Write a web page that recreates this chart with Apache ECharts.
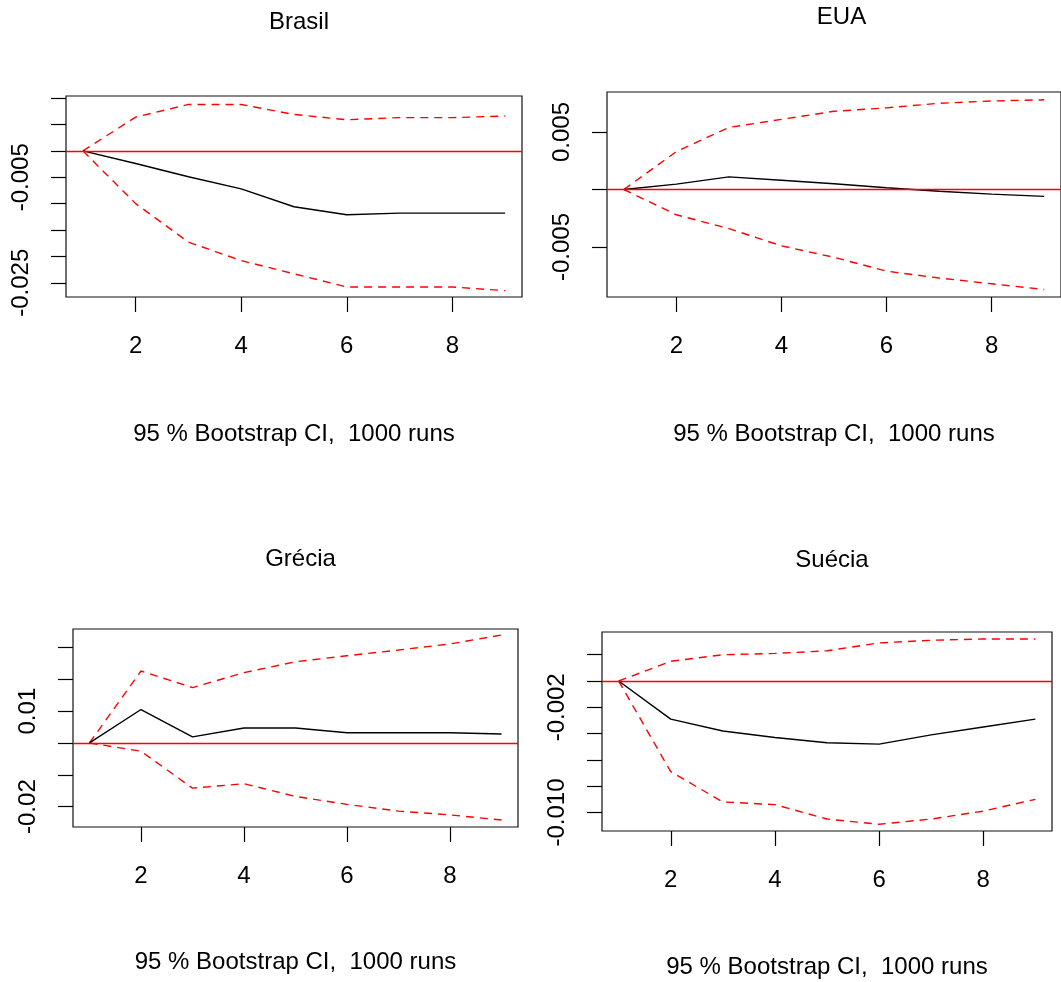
<!DOCTYPE html>
<html>
<head>
<meta charset="utf-8">
<script src="https://cdn.jsdelivr.net/npm/echarts@6/dist/echarts.min.js"></script>
<style>
html,body{margin:0;padding:0;background:#ffffff;}
#chart{width:1061px;height:982px;}
</style>
</head>
<body>
<div id="chart"></div>
<script>
// ---------- data ----------
const steps = [1, 2, 3, 4, 5, 6, 7, 8, 9];
const xTicks = [2, 4, 6, 8];
const xAxisTitle = '95 % Bootstrap CI,  1000 runs';

const brasilTitle = 'Brasil';
const brasilIrf   = [0, -0.0024, -0.0049, -0.0072, -0.0106, -0.0121, -0.0118, -0.0118, -0.0118];
const brasilUpper = [0, 0.0064, 0.0088, 0.0088, 0.0069, 0.0059, 0.0063, 0.0063, 0.0066];
const brasilLower = [0, -0.0100, -0.0173, -0.0208, -0.0233, -0.0258, -0.0258, -0.0258, -0.0265];
const brasilYTicks = [0.01, 0.005, 0, -0.005, -0.01, -0.015, -0.02, -0.025];
const brasilYLabelValues = [-0.005, -0.025];
const brasilYLabelTexts  = ['-0.005', '-0.025'];

const euaTitle = 'EUA';
const euaIrf   = [0, 0.00047, 0.0011, 0.0008, 0.0005, 0.00015, -0.00015, -0.0004, -0.0006];
const euaUpper = [0, 0.0033, 0.0054, 0.0061, 0.0068, 0.0071, 0.0075, 0.0077, 0.0078];
const euaLower = [0, -0.0022, -0.0034, -0.0049, -0.0059, -0.0071, -0.0077, -0.0082, -0.0087];
const euaYTicks = [0.005, 0, -0.005];
const euaYLabelValues = [0.005, -0.005];
const euaYLabelTexts  = ['0.005', '-0.005'];

const greciaTitle = 'Grécia';
const greciaIrf   = [0, 0.0105, 0.0019, 0.0047, 0.0047, 0.0032, 0.0032, 0.0032, 0.0028];
const greciaUpper = [0, 0.0226, 0.0174, 0.0221, 0.0255, 0.0274, 0.0292, 0.0311, 0.0339];
const greciaLower = [0, -0.0026, -0.0142, -0.0128, -0.0168, -0.0193, -0.0214, -0.0226, -0.0242];
const greciaYTicks = [0.03, 0.02, 0.01, 0, -0.01, -0.02];
const greciaYLabelValues = [0.01, -0.02];
const greciaYLabelTexts  = ['0.01', '-0.02'];

const sueciaTitle = 'Suécia';
const sueciaIrf   = [0, -0.0029, -0.0038, -0.0043, -0.0047, -0.0048, -0.0041, -0.0035, -0.0029];
const sueciaUpper = [0, 0.0015, 0.0020, 0.0021, 0.0023, 0.0029, 0.0031, 0.0032, 0.0032];
const sueciaLower = [0, -0.0069, -0.0092, -0.0094, -0.0105, -0.0109, -0.0105, -0.0099, -0.0090];
const sueciaYTicks = [0.002, 0, -0.002, -0.004, -0.006, -0.008, -0.010];
const sueciaYLabelValues = [-0.002, -0.010];
const sueciaYLabelTexts  = ['-0.002', '-0.010'];

// ---------- layout / style ----------
const FONT = '"Liberation Sans", Arial, sans-serif';
const FS = 24;
const panels = [
  {title: brasilTitle, irf: brasilIrf, up: brasilUpper, lo: brasilLower, ticks: brasilYTicks, lv: brasilYLabelValues, lt: brasilYLabelTexts,
   grid: {left: 66, top: 96, width: 456, height: 201}, ymin: -0.0277, ymax: 0.0104, titleTop: 5, nameGap: 125},
  {title: euaTitle, irf: euaIrf, up: euaUpper, lo: euaLower, ticks: euaYTicks, lv: euaYLabelValues, lt: euaYLabelTexts,
   grid: {left: 607, top: 92, width: 459, height: 205}, ymin: -0.00935, ymax: 0.00848, titleTop: 0, nameGap: 125},
  {title: greciaTitle, irf: greciaIrf, up: greciaUpper, lo: greciaLower, ticks: greciaYTicks, lv: greciaYLabelValues, lt: greciaYLabelTexts,
   grid: {left: 73, top: 629, width: 445, height: 198}, ymin: -0.0264, ymax: 0.0358, titleTop: 542, nameGap: 123},
  {title: sueciaTitle, irf: sueciaIrf, up: sueciaUpper, lo: sueciaLower, ticks: sueciaYTicks, lv: sueciaYLabelValues, lt: sueciaYLabelTexts,
   grid: {left: 602, top: 632, width: 450, height: 199}, ymin: -0.01141, ymax: 0.00373, titleTop: 543, nameGap: 124}
];

const pairs = arr => steps.map((s, i) => [s, arr[i]]);

const option = {
  animation: false,
  backgroundColor: '#ffffff',
  title: [], grid: [], xAxis: [], yAxis: [], series: []
};

panels.forEach((p, k) => {
  const g = p.grid;
  option.title.push({
    text: p.title, left: g.left + g.width / 2, top: p.titleTop, textAlign: 'center',
    textStyle: {fontFamily: FONT, fontSize: FS, fontWeight: 'normal', color: '#000'}
  });
  option.grid.push(Object.assign({show: true, borderColor: '#111', borderWidth: 1.2, backgroundColor: 'transparent', containLabel: false}, g));
  option.xAxis.push({
    type: 'value', gridIndex: k, min: 0.68, max: 9.32,
    name: xAxisTitle, nameLocation: 'middle', nameGap: p.nameGap,
    nameTextStyle: {fontFamily: FONT, fontSize: FS, color: '#000'},
    axisLine: {show: false, onZero: false},
    axisTick: {show: true, length: 15, customValues: xTicks, lineStyle: {color: '#000', width: 1.2}},
    axisLabel: {show: true, customValues: xTicks, margin: 37, fontFamily: FONT, fontSize: FS, color: '#000'},
    splitLine: {show: false}
  });
  option.yAxis.push({
    type: 'value', gridIndex: k, min: p.ymin, max: p.ymax,
    axisLine: {show: false, onZero: false},
    axisTick: {show: true, length: 15, customValues: p.ticks, lineStyle: {color: '#000', width: 1.2}},
    axisLabel: {
      show: true, customValues: p.lv, rotate: 90, margin: 33,
      fontFamily: FONT, fontSize: FS, color: '#000',
      formatter: v => {
        for (let i = 0; i < p.lv.length; i++) if (Math.abs(v - p.lv[i]) < 1e-9) return p.lt[i];
        return '';
      }
    },
    splitLine: {show: false}
  });
  option.series.push({
    type: 'line', xAxisIndex: k, yAxisIndex: k, data: pairs(p.irf),
    symbol: 'none', lineStyle: {color: '#000', width: 1.4}, z: 3,
    markLine: {
      silent: true, symbol: 'none', label: {show: false},
      lineStyle: {color: '#ff0000', type: 'solid', width: 1.4},
      data: [{yAxis: 0}]
    }
  });
  [p.up, p.lo].forEach(band => {
    option.series.push({
      type: 'line', xAxisIndex: k, yAxisIndex: k, data: pairs(band),
      symbol: 'none', lineStyle: {color: '#ff0000', width: 1.4, type: [8, 6]}, z: 2
    });
  });
});

const chart = echarts.init(document.getElementById('chart'), null, {renderer: 'canvas'});
chart.setOption(option);
</script>
</body>
</html>
